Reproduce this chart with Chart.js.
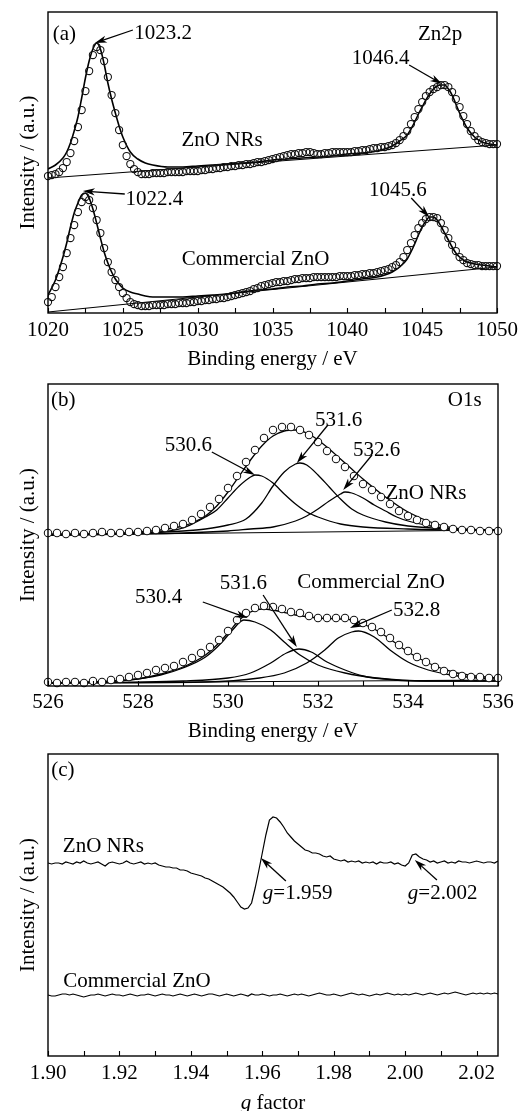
<!DOCTYPE html>
<html><head><meta charset="utf-8">
<script src="https://cdn.jsdelivr.net/npm/chart.js@4.4.1/dist/chart.umd.min.js"></script>
<style>
html,body{margin:0;padding:0;background:#fff;}
#wrap{position:relative;width:528px;height:1111px;overflow:hidden;background:#fff;}
canvas{position:absolute;left:0;}
</style></head><body>
<div id="wrap">
<canvas id="ca" width="528" height="372" style="top:0px"></canvas>
<canvas id="cb" width="528" height="372" style="top:372px"></canvas>
<canvas id="cc" width="528" height="367" style="top:744px"></canvas>
</div>
<script>
// ---------- Panel (a) Zn2p ----------
const znEnergy = [1020,1020.25,1020.5,1020.75,1021,1021.25,1021.5,1021.75,1022,1022.25,1022.5,1022.75,1023,1023.25,1023.5,1023.75,1024,1024.25,1024.5,1024.75,1025,1025.25,1025.5,1025.75,1026,1026.25,1026.5,1026.75,1027,1027.25,1027.5,1027.75,1028,1028.25,1028.5,1028.75,1029,1029.25,1029.5,1029.75,1030,1030.25,1030.5,1030.75,1031,1031.25,1031.5,1031.75,1032,1032.25,1032.5,1032.75,1033,1033.25,1033.5,1033.75,1034,1034.25,1034.5,1034.75,1035,1035.25,1035.5,1035.75,1036,1036.25,1036.5,1036.75,1037,1037.25,1037.5,1037.75,1038,1038.25,1038.5,1038.75,1039,1039.25,1039.5,1039.75,1040,1040.25,1040.5,1040.75,1041,1041.25,1041.5,1041.75,1042,1042.25,1042.5,1042.75,1043,1043.25,1043.5,1043.75,1044,1044.25,1044.5,1044.75,1045,1045.25,1045.5,1045.75,1046,1046.25,1046.5,1046.75,1047,1047.25,1047.5,1047.75,1048,1048.25,1048.5,1048.75,1049,1049.25,1049.5,1049.75,1050];
const znNRsData = [137,138,139,141,145,151,160,172,186,203,222,242,258,266,263,252,236,218,200,183,168,157,149,144,141,139,139,139,140,140,140,140,141,141,141,141,141,142,142,142,142,143,143,144,144,145,145,146,146,147,147,148,148,149,149,150,151,151,152,153,154,155,156,157,158,159,159,160,160,161,161,160,159,159,160,160,161,161,161,161,161,161,162,162,163,163,164,165,165,166,166,167,168,170,173,177,182,189,196,204,211,217,221,224,226,228,228,226,221,214,206,197,189,182,177,173,171,170,169,169,169];
const znComData = [11,16,26,36,46,60,75,88,101,111,116,113,105,93,80,65,51,41,33,26,20,15,11,9,8,7,7,7,8,8,8,8,9,9,9,10,10,10,11,11,12,12,13,13,14,14,15,15,16,17,18,19,20,21,22,24,25,27,28,29,30,31,31,32,32,33,34,34,35,35,35,36,36,36,36,36,36,36,37,37,37,37,38,38,39,39,40,40,41,42,43,44,46,48,51,56,63,70,78,85,90,94,96,96,95,90,83,75,68,62,56,53,50,49,48,48,47,47,47,47,47];
const znFitEnergy = [1020,1020.5,1021,1021.25,1021.5,1021.75,1022,1022.25,1022.5,1022.75,1023,1023.25,1023.5,1023.75,1024,1024.25,1024.5,1024.75,1025,1025.5,1026,1026.5,1027,1028,1029,1030,1031,1032,1033,1034,1035,1036,1037,1038,1039,1040,1041,1042,1042.5,1043,1043.5,1044,1044.25,1044.5,1044.75,1045,1045.25,1045.5,1045.75,1046,1046.25,1046.5,1046.75,1047,1047.25,1047.5,1047.75,1048,1048.5,1049,1049.5,1050];
const znNRsFit = [144,148,155,161,170,182,196,215,235,252,264,270,264,249,230,214,200,187,176,161,154,150,148,146,146,147,148,149,150,151,153,154,155,156,157,159,160,162,164,167,172,178,184,191,199,206,213,219,224,227,228,228,224,218,209,200,192,185,176,171,169,168];
const znComFit = [18,33,56,70,86,100,110,118,120,115,104,90,75,61,50,41,34,29,25,21,19,17,16,16,16,17,18,19,21,23,24,26,27,29,30,32,34,36,38,41,46,54,61,69,78,86,92,96,96,93,87,80,73,66,60,56,53,51,49,48,47,46];
const znBaseEnergy = [1020,1050];
const znNRsBase = [135,168];
const znComBase = [1,46];

// ---------- Panel (b) O1s ----------
const oEnergy = [526,526.2,526.4,526.6,526.8,527,527.2,527.4,527.6,527.8,528,528.2,528.4,528.6,528.8,529,529.2,529.4,529.6,529.8,530,530.2,530.4,530.6,530.8,531,531.2,531.4,531.6,531.8,532,532.2,532.4,532.6,532.8,533,533.2,533.4,533.6,533.8,534,534.2,534.4,534.6,534.8,535,535.2,535.4,535.6,535.8,536];
const oNRsData = [153,153,152,153,152,153,154,153,153,154,154,155,156,158,160,162,166,172,179,187,198,210,224,236,248,256,259,259,256,251,244,235,227,219,210,202,196,189,182,175,170,166,163,161,159,157,156,156,155,155,155];
const oComData = [4,3,4,4,3,5,4,6,7,9,11,13,16,18,20,24,28,33,39,46,55,66,73,78,80,79,77,74,73,70,68,68,68,68,66,63,59,54,48,41,35,29,24,19,15,12,10,9,9,8,8];
const oNRsEnvE = [526,527,528,528.5,529,529.25,529.5,529.75,530,530.25,530.5,530.75,531,531.25,531.5,531.75,532,532.25,532.5,532.75,533,533.5,534,534.5,535,535.5,536];
const oNRsEnv = [152,152,154,156,160,164,170,180,194,210,226,240,250,255,256,253,246,237,227,217,207,189,174,164,158,156,156];
const oNRsP1E = [526,527.5,528.5,529,529.25,529.5,529.75,530,530.25,530.5,530.6,530.75,531,531.25,531.5,531.75,532,532.5,533,534,535,536];
const oNRsP1 = [151,152,154,158,163,169,176,188,200,209,211,210,203,192,182,174,169,162,159,157,156,156];
const oNRsP2E = [526,528,529,529.5,530,530.4,530.75,531,531.25,531.5,531.6,531.75,532,532.25,532.5,532.75,533,533.5,534,535,536];
const oNRsP2 = [151,153,155,157,161,167,183,200,214,222,223,221,211,199,187,177,171,164,160,157,156];
const oNRsP3E = [526,529,530,530.5,531,531.5,531.75,532,532.25,532.5,532.6,532.75,533,533.25,533.5,533.75,534,534.5,535,536];
const oNRsP3 = [151,153,155,157,159,165,170,177,185,192,194,193,188,181,175,169,165,160,157,156];
const oComEnvE = [526,527,528,528.5,529,529.5,529.75,530,530.25,530.5,530.75,531,531.5,532,532.5,532.75,533,533.25,533.5,533.75,534,534.5,535,535.5,536];
const oComEnv = [3,4,7,12,19,31,41,53,66,74,77,76,71,68,67,66,62,57,50,42,34,22,14,10,8];
const oComP1E = [526,527.75,528.5,529,529.5,529.85,530.1,530.35,530.6,530.95,531.25,531.6,532,532.6,533.3,534.4,536];
const oComP1 = [3,6,11,18,29,43,56,66,64,56,44,31,21,13,8,5,5];
const oComP2E = [526,529,530,530.5,530.95,531.3,531.58,531.85,532.2,532.6,533,533.7,534.5,536];
const oComP2 = [3,5,8,13,23,33,37,34,24,16,10,6,5,5];
const oComP3E = [526,529.5,530.7,531.25,531.75,532.15,532.45,532.75,532.9,533.25,533.6,534,534.45,534.95,535.55,536];
const oComP3 = [3,4,8,13,23,36,48,54,55,49,36,24,16,11,8,7];
const oBaseEnergy = [526,536];
const oNRsBase = [151,156];
const oComBase = [3,6];

// ---------- Panel (c) EPR ----------
const gFactor = [1.900,1.901,1.902,1.903,1.904,1.905,1.906,1.907,1.908,1.909,
1.910,1.911,1.912,1.913,1.914,1.915,1.916,1.917,1.918,1.919,
1.920,1.921,1.922,1.923,1.924,1.925,1.926,1.927,1.928,1.929,
1.930,1.931,1.932,1.933,1.934,1.935,1.936,1.937,1.938,1.939,
1.940,1.941,1.942,1.943,1.944,1.945,1.946,1.947,1.948,1.949,
1.950,1.951,1.952,1.953,1.954,1.955,1.956,1.957,1.958,1.959,
1.960,1.961,1.962,1.963,1.964,1.965,1.966,1.967,1.968,1.969,
1.970,1.971,1.972,1.973,1.974,1.975,1.976,1.977,1.978,1.979,
1.980,1.981,1.982,1.983,1.984,1.985,1.986,1.987,1.988,1.989,
1.990,1.991,1.992,1.993,1.994,1.995,1.996,1.997,1.998,1.999,
2.000,2.001,2.002,2.003,2.004,2.005,2.006,2.007,2.008,2.009,
2.010,2.011,2.012,2.013,2.014,2.015,2.016,2.017,2.018,2.019,
2.020,2.021,2.022,2.023,2.024,2.025,2.026];
const eprNRs = [193,192,193,193,192,194,193,192,194,193,
195,193,192,193,194,192,190,193,194,193,
192,193,195,193,192,193,194,192,193,192,
193,191,190,189,189,188,188,186,186,185,
183,182,181,180,178,177,175,173,171,169,
166,163,159,154,149,147,148,153,168,185,
203,221,236,239,238,234,229,223,219,215,
212,209,206,205,203,203,202,200,199,200,
197,196,195,196,194,195,194,195,193,194,
193,194,192,194,193,193,194,192,193,191,
190,193,201,202,199,197,196,194,195,193,
194,195,193,194,193,195,194,194,193,194,
195,194,193,194,194,193,195];
const eprCom = [61,60,60,61,62,62,61,62,61,60,
59,60,61,61,62,61,60,61,62,61,
61,60,61,62,61,60,61,61,62,61,
60,61,62,61,61,60,61,62,61,60,
61,62,61,60,61,62,62,61,60,61,
62,61,60,61,62,61,60,62,61,61,
62,61,60,61,61,62,61,60,61,62,
61,62,61,60,61,62,63,62,61,61,
62,61,60,61,62,63,62,61,62,61,
60,61,62,61,62,63,62,61,62,61,
62,61,62,63,62,61,62,63,62,61,
62,63,62,63,64,63,62,61,62,63,
62,63,62,63,62,63,62];

// ---------- helpers ----------
const FONT = '"Liberation Serif", "Times New Roman", Times, serif';
const pts = (xs, ys) => xs.map((x, i) => ({x: x, y: ys[i]}));

function drawArrow(ctx, x1, y1, x2, y2) {
  const ang = Math.atan2(y2 - y1, x2 - x1);
  const L = 12, W = 3.6;
  const c = Math.cos(ang), s = Math.sin(ang);
  const bx = x2 - L * c, by = y2 - L * s;
  ctx.lineWidth = 1.3;
  ctx.beginPath(); ctx.moveTo(x1, y1); ctx.lineTo(x2 - 8 * c, y2 - 8 * s); ctx.stroke();
  ctx.beginPath();
  ctx.moveTo(x2, y2);
  ctx.lineTo(bx - W * s, by + W * c);
  ctx.lineTo(x2 - 0.72 * L * c, y2 - 0.72 * L * s);
  ctx.lineTo(bx + W * s, by - W * c);
  ctx.closePath(); ctx.fill();
}

function drawParts(ctx, parts, cx, cy) {
  let w = 0;
  parts.forEach(p => { ctx.font = (p[1] ? 'italic ' : '') + '21px ' + FONT; w += ctx.measureText(p[0]).width; });
  let x = cx - w / 2;
  ctx.textAlign = 'left'; ctx.textBaseline = 'middle';
  parts.forEach(p => { ctx.font = (p[1] ? 'italic ' : '') + '21px ' + FONT; ctx.fillText(p[0], x, cy); x += ctx.measureText(p[0]).width; });
}

function makeNotes(notes) {
  return {
    id: 'notes',
    afterDraw(chart) {
      const ctx = chart.ctx, xs = chart.scales.x, ys = chart.scales.y, ca = chart.chartArea;
      ctx.save();
      ctx.fillStyle = '#000'; ctx.strokeStyle = '#000';
      (notes.texts || []).forEach(n => {
        drawParts(ctx, n.parts || [[n.t, false]], xs.getPixelForValue(n.x), ys.getPixelForValue(n.y));
      });
      (notes.arrows || []).forEach(a => drawArrow(ctx, xs.getPixelForValue(a[0]), ys.getPixelForValue(a[1]), xs.getPixelForValue(a[2]), ys.getPixelForValue(a[3])));
      if (notes.xTitle) drawParts(ctx, notes.xTitle, (ca.left + ca.right) / 2, ca.bottom + 47);
      // inward tick marks on the bottom axis, at the scale's own ticks
      ctx.lineWidth = 1.1;
      ctx.beginPath();
      xs.ticks.forEach(t => {
        const px = Math.round(xs.getPixelForValue(t.value)) + 0.5;
        ctx.moveTo(px, ca.bottom); ctx.lineTo(px, ca.bottom - 5);
      });
      ctx.stroke();
      ctx.lineWidth = 1.4;
      ctx.strokeRect(ca.left, ca.top, ca.right - ca.left, ca.bottom - ca.top);
      ctx.restore();
    }
  };
}

function options(cfg) {
  return {
    responsive: false, animation: false, devicePixelRatio: 1, events: [],
    layout: {padding: {left: 0, right: 30, top: cfg.top, bottom: 0}},
    plugins: {legend: {display: false}, tooltip: {enabled: false}},
    scales: {
      x: {
        type: 'linear', min: cfg.xmin, max: cfg.xmax,
        border: {display: false},
        grid: {display: true, drawOnChartArea: false, drawTicks: true, tickLength: -5, color: 'rgba(0,0,0,0)', lineWidth: 1},
        ticks: {stepSize: cfg.step, autoSkip: false, maxRotation: 0, minRotation: 0, includeBounds: false,
                padding: cfg.tpad, color: '#000', font: {family: FONT, size: 21}, callback: cfg.fmt},
        title: {display: !!cfg.xTitle, text: cfg.xTitle || '', color: '#000', font: {family: FONT, size: 21}, padding: {top: 0, bottom: 0}},
        afterFit: s => { s.height = cfg.xh; }
      },
      y: {
        type: 'linear', min: 0, max: cfg.ymax,
        border: {display: false}, grid: {display: false},
        ticks: {display: false},
        title: {display: true, text: 'Intensity / (a.u.)', color: '#000', font: {family: FONT, size: 21}, padding: {top: 16, bottom: 0}},
        afterFit: s => { s.width = 48; }
      }
    }
  };
}

const circleSet = (data, fill, r) => ({data: data, showLine: false, pointRadius: r, pointBorderWidth: 1.05,
  pointBorderColor: '#111', pointBackgroundColor: fill, clip: false});
const lineSet = (data, w) => ({data: data, borderColor: '#000', borderWidth: w, pointRadius: 0,
  cubicInterpolationMode: 'monotone', fill: false});

// ---------- Chart (a) ----------
new Chart(document.getElementById('ca'), {
  type: 'line',
  data: {datasets: [
    circleSet(pts(znEnergy, znNRsData), 'rgba(0,0,0,0)', 3.6),
    circleSet(pts(znEnergy, znComData), 'rgba(0,0,0,0)', 3.6),
    lineSet(pts(znFitEnergy, znNRsFit), 1.6),
    lineSet(pts(znFitEnergy, znComFit), 1.6),
    lineSet(pts(znBaseEnergy, znNRsBase), 1.1),
    lineSet(pts(znBaseEnergy, znComBase), 1.1)
  ]},
  options: options({xmin: 1020, xmax: 1050, step: 2.5, top: 12, xh: 59, ymax: 301, tpad: 10,
    xTitle: 'Binding energy / eV', fmt: v => (v % 5 === 0 ? String(v) : '')}),
  plugins: [makeNotes({
    texts: [
      {t: '(a)', x: 1021.1, y: 279},
      {t: 'Zn2p', x: 1046.2, y: 279},
      {t: '1023.2', x: 1027.7, y: 280},
      {t: '1046.4', x: 1042.23, y: 255},
      {t: 'ZnO NRs', x: 1031.63, y: 173},
      {t: '1022.4', x: 1027.1, y: 114},
      {t: '1045.6', x: 1043.37, y: 123},
      {t: 'Commercial ZnO', x: 1033.87, y: 54}
    ],
    arrows: [
      [1025.67, 283, 1023.13, 270],
      [1044.13, 248, 1046.33, 229],
      [1025.13, 119, 1022.33, 122],
      [1044.27, 115, 1045.47, 96]
    ]
  })]
});

// ---------- Chart (b) ----------
new Chart(document.getElementById('cb'), {
  type: 'line',
  data: {datasets: [
    circleSet(pts(oEnergy, oNRsData), '#fff', 3.7),
    circleSet(pts(oEnergy, oComData), '#fff', 3.7),
    lineSet(pts(oNRsEnvE, oNRsEnv), 1.3),
    lineSet(pts(oComEnvE, oComEnv), 1.3),
    lineSet(pts(oNRsP1E, oNRsP1), 1.3),
    lineSet(pts(oNRsP2E, oNRsP2), 1.3),
    lineSet(pts(oNRsP3E, oNRsP3), 1.3),
    lineSet(pts(oComP1E, oComP1), 1.3),
    lineSet(pts(oComP2E, oComP2), 1.3),
    lineSet(pts(oComP3E, oComP3), 1.3),
    lineSet(pts(oBaseEnergy, oNRsBase), 1),
    lineSet(pts(oBaseEnergy, oComBase), 1)
  ]},
  options: options({xmin: 526, xmax: 536, step: 1, top: 12, xh: 58, ymax: 302, tpad: 9,
    xTitle: 'Binding energy / eV', fmt: v => (Math.abs(v - Math.round(v)) < 1e-6 && Math.round(v) % 2 === 0 ? String(Math.round(v)) : '')}),
  plugins: [makeNotes({
    texts: [
      {t: '(b)', x: 526.34, y: 286},
      {t: 'O1s', x: 535.26, y: 286},
      {t: '530.6', x: 529.12, y: 241},
      {t: '531.6', x: 532.46, y: 266},
      {t: '532.6', x: 533.3, y: 236},
      {t: 'ZnO NRs', x: 534.4, y: 193},
      {t: 'Commercial ZnO', x: 533.18, y: 104},
      {t: '531.6', x: 530.34, y: 103},
      {t: '530.4', x: 528.46, y: 89},
      {t: '532.8', x: 534.19, y: 76}
    ],
    arrows: [
      [529.64, 234, 530.6, 211],
      [532.22, 261, 531.53, 223],
      [533.2, 231, 532.56, 196],
      [530.78, 91, 531.53, 39],
      [529.44, 84, 530.44, 68],
      [533.64, 76, 532.71, 58]
    ]
  })]
});

// ---------- Chart (c) ----------
const epr = (data) => ({data: data, borderColor: '#000', borderWidth: 1.2, pointRadius: 0, tension: 0, fill: false});
new Chart(document.getElementById('cc'), {
  type: 'line',
  data: {datasets: [
    epr(pts(gFactor, eprNRs)),
    epr(pts(gFactor, eprCom))
  ]},
  options: options({xmin: 1.9, xmax: 2.026, step: 0.01, top: 10, xh: 55, ymax: 302, tpad: 10,
    xTitle: '', fmt: v => { const k = Math.round(v * 100); return (Math.abs(v * 100 - k) < 1e-6 && k % 2 === 0) ? v.toFixed(2) : ''; }}),
  plugins: [makeNotes({
    texts: [
      {t: '(c)', x: 1.90415, y: 286},
      {t: 'ZnO NRs', x: 1.9155, y: 210},
      {parts: [['g', true], ['=1.959', false]], x: 1.9699, y: 163},
      {parts: [['g', true], ['=2.002', false]], x: 2.0105, y: 163},
      {t: 'Commercial ZnO', x: 1.9249, y: 75}
    ],
    arrows: [
      [1.9666, 175, 1.9596, 198],
      [2.0089, 176, 2.0027, 196]
    ],
    xTitle: [['g', true], [' factor', false]]
  })]
});
</script>
</body></html>
